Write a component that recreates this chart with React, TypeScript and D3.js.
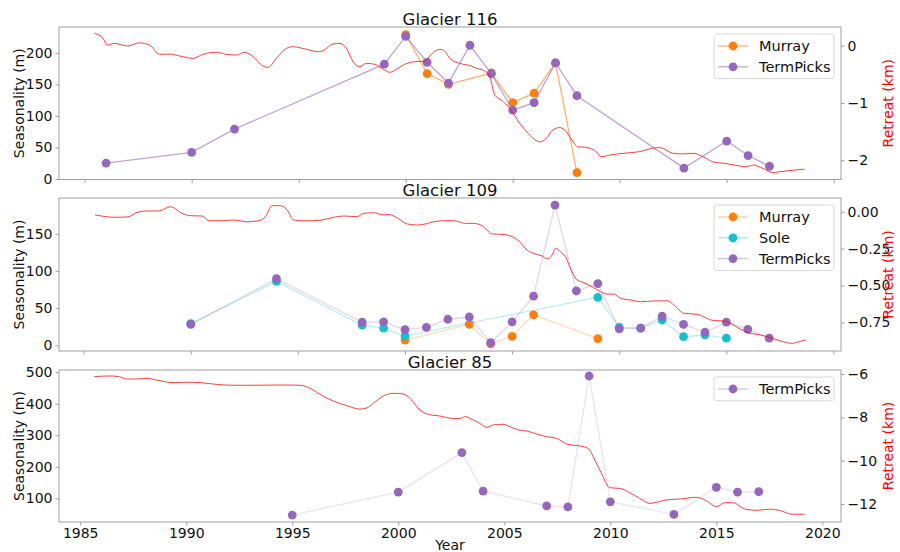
import React, { useEffect, useRef } from 'react';
import * as d3 from 'd3';

// ---- Glacier 116 ----
const murray116Years = [2000, 2001, 2002, 2004, 2005, 2006, 2007, 2008];
const murray116Vals = [229, 167, 150, 168, 121, 136, 184, 10];
const term116Years = [1986, 1990, 1992, 1999, 2000, 2001, 2002, 2003, 2004, 2005, 2006, 2007, 2008, 2013, 2015, 2016, 2017];
const term116Vals = [25, 42, 79, 182, 226, 185, 152, 212, 167, 109, 121, 184, 132, 17, 60, 37, 20];
const retreat116Years = [
  1985.45, 1985.86, 1986.04, 1986.4, 1987.0, 1987.57, 1988.04, 1988.5, 1988.97, 1989.44, 1990.06,
  1990.53, 1991.15, 1991.62, 1992.09, 1992.48, 1992.87, 1993.33, 1993.57, 1993.96, 1994.43, 1994.73,
  1995.36, 1995.9, 1996.2, 1996.6, 1996.9, 1997.23, 1997.54, 1997.85, 1998.16, 1998.55, 1998.94,
  1999.25, 1999.64, 1999.95, 2000.42, 2000.9, 2001.2, 2001.6, 2001.82, 2002.06, 2002.52, 2003.07,
  2003.3, 2003.6, 2003.93, 2004.16, 2004.47, 2004.86, 2005.33, 2005.72, 2006.03, 2006.26, 2006.57,
  2006.88, 2007.2, 2007.5, 2007.82, 2008.06, 2008.28, 2008.6, 2008.9, 2009.14, 2009.53, 2010.15,
  2010.93, 2011.55, 2011.87, 2012.5, 2012.96, 2013.43, 2013.9, 2014.36, 2014.99, 2015.6, 2015.92,
  2016.23, 2016.7, 2017.16, 2017.48, 2018.1, 2018.64,
];
const retreat116Vals = [
  0.216, 0.13, 0.01, 0.04, -0.005, 0.05, 0.01, -0.15, -0.145, -0.18, -0.22,
  -0.15, -0.115, -0.15, -0.163, -0.115, -0.19, -0.355, -0.378, -0.22, -0.045, -0.017,
  -0.063, -0.105, -0.075, 0.03, 0.04, -0.045, -0.28, -0.367, -0.308, -0.325, -0.407,
  -0.465, -0.395, -0.325, -0.28, -0.267, -0.145, -0.063, -0.093, -0.22, -0.308, -0.355,
  -0.395, -0.425, -0.54, -0.862, -0.95, -1.095, -1.357, -1.53, -1.64, -1.68, -1.62,
  -1.47, -1.43, -1.5, -1.68, -1.77, -1.77, -1.79, -1.85, -1.94, -1.91, -1.88,
  -1.85, -1.79, -1.78, -1.88, -1.89, -1.88, -1.94, -2.03, -2.06, -2.1, -2.115,
  -2.085, -2.145, -2.215, -2.2, -2.175, -2.155,
];

// ---- Glacier 109 ----
const murray109Years = [2000, 2003, 2004, 2005, 2006, 2009];
const murray109Vals = [7, 28, 2, 12, 41, 9];
const sole109Years = [1990, 1994, 1998, 1999, 2000, 2009, 2010, 2011, 2012, 2013, 2014, 2015];
const sole109Vals = [29, 86, 27, 23, 12.5, 64.5, 24, 23, 34, 11.5, 14, 9.5];
const term109Years = [1990, 1994, 1998, 1999, 2000, 2001, 2002, 2003, 2004, 2005, 2006, 2007, 2008, 2009, 2010, 2011, 2012, 2013, 2014, 2015, 2016, 2017];
const term109Vals = [28, 89.5, 31, 31.5, 21, 24, 35, 38, 3.5, 31.5, 66, 188.5, 73, 83, 22, 23, 39, 28, 17.5, 31, 21.5, 9.5];
const retreat109Years = [
  1985.53, 1986.09, 1986.56, 1987.1, 1987.49, 1987.96, 1988.5, 1989.05, 1989.59, 1989.98, 1990.53,
  1990.84, 1991.38, 1992.0, 1992.63, 1993.1, 1993.48, 1993.8, 1994.18, 1994.5, 1994.8, 1995.12,
  1995.74, 1996.2, 1996.67, 1997.14, 1997.76, 1998.07, 1998.54, 1999.0, 1999.24, 1999.63, 2000.1,
  2000.57, 2000.95, 2001.34, 2001.81, 2002.27, 2002.82, 2003.2, 2003.6, 2004.07, 2004.53, 2005.0,
  2005.31, 2005.7, 2006.09, 2006.4, 2006.63, 2006.87, 2007.02, 2007.25, 2007.49, 2007.72, 2008.03,
  2008.34, 2008.73, 2009.12, 2009.43, 2009.74, 2010.06, 2010.52, 2010.99, 2011.61, 2012.24, 2012.55,
  2013.01, 2013.64, 2014.02, 2014.41, 2014.88, 2015.19, 2015.66, 2016.13, 2016.59, 2017.06, 2017.53,
  2018.07, 2018.38, 2018.72,
];
const retreat109Vals = [
  -0.022, -0.034, -0.038, -0.034, -0.004, 0.005, 0.005, 0.034, -0.011, -0.027, -0.029,
  -0.061, -0.061, -0.056, -0.068, -0.063, -0.034, 0.041, 0.041, 0.012, -0.056, -0.061,
  -0.061, -0.054, -0.038, -0.029, -0.034, -0.011, -0.007, -0.022, -0.018, -0.041, -0.083,
  -0.09, -0.083, -0.068, -0.061, -0.061, -0.079, -0.079, -0.095, -0.151, -0.153, -0.169,
  -0.198, -0.26, -0.287, -0.3, -0.32, -0.293, -0.248, -0.271, -0.305, -0.384, -0.463,
  -0.481, -0.508, -0.542, -0.558, -0.558, -0.587, -0.598, -0.61, -0.605, -0.603, -0.632,
  -0.688, -0.695, -0.718, -0.738, -0.74, -0.756, -0.797, -0.824, -0.835, -0.854, -0.876,
  -0.892, -0.881, -0.869,
];

// ---- Glacier 85 ----
const term85Years = [1995, 2000, 2003, 2004, 2007, 2008, 2009, 2010, 2013, 2015, 2016, 2017];
const term85Vals = [47, 120, 245, 123, 76, 73, 488, 89, 49, 135, 120, 121];
const retreat85Years = [
  1985.67, 1986.41, 1986.8, 1987.2, 1987.67, 1988.14, 1988.61, 1989.39, 1990.03, 1990.65, 1991.44,
  1992.22, 1993.17, 1994.1, 1994.9, 1995.37, 1995.84, 1996.31, 1996.94, 1997.57, 1998.2, 1998.51,
  1998.82, 1999.29, 1999.76, 2000.24, 2000.63, 2001.02, 2001.41, 2001.97, 2002.6, 2002.91, 2003.14,
  2003.53, 2003.85, 2004.17, 2004.48, 2004.95, 2005.26, 2005.66, 2006.05, 2006.52, 2006.99, 2007.46,
  2008.01, 2008.56, 2008.95, 2009.27, 2009.58, 2009.98, 2010.45, 2010.92, 2011.39, 2011.86, 2012.65,
  2013.27, 2014.06, 2014.53, 2015.0, 2015.4, 2015.79, 2016.34, 2016.89, 2017.52, 2018.07, 2018.54,
  2019.17,
];
const retreat85Vals = [
  -6.12, -6.09, -6.12, -6.23, -6.23, -6.2, -6.28, -6.4, -6.38, -6.4, -6.48,
  -6.52, -6.52, -6.51, -6.51, -6.52, -6.66, -6.94, -7.25, -7.46, -7.62, -7.57,
  -7.35, -7.02, -6.89, -6.92, -7.2, -7.66, -7.86, -7.94, -8.05, -8.05, -7.97,
  -8.12, -8.28, -8.46, -8.35, -8.32, -8.43, -8.58, -8.63, -8.77, -8.89, -8.97,
  -9.25, -9.32, -9.43, -9.97, -10.58, -11.25, -11.28, -11.48, -11.74, -11.97, -11.81,
  -11.77, -11.69, -11.85, -12.12, -11.94, -11.94, -12.23, -12.29, -12.24, -12.32, -12.47,
  -12.47,
];

const xTicks = [1985, 1990, 1995, 2000, 2005, 2010, 2015, 2020];

const ORANGE = '#ff7f0e';
const CYAN = '#17becf';
const PURPLE = '#9467bd';

const panels = [
  {
    title: 'Glacier 116',
    top: 27, bottom: 179.5,
    xDomain: [1983.8, 2020.34], yLeft: [-1, 241], yRight: [-2.337, 0.327],
    leftTicks: [0, 50, 100, 150, 200], rightTicks: [-2, -1, 0], rightFmt: 'd',
    lineAlpha: 0.6, xLabels: false,
    series: [
      { name: 'Murray', color: ORANGE, years: murray116Years, vals: murray116Vals },
      { name: 'TermPicks', color: PURPLE, years: term116Years, vals: term116Vals },
    ],
    retreat: { years: retreat116Years, vals: retreat116Vals },
  },
  {
    title: 'Glacier 109',
    top: 198, bottom: 351,
    xDomain: [1983.85, 2020.35], yLeft: [-7.7, 198], yRight: [-0.944, 0.093],
    leftTicks: [0, 50, 100, 150], rightTicks: [-0.75, -0.5, -0.25, 0], rightFmt: '.2f',
    lineAlpha: 0.28, xLabels: false,
    series: [
      { name: 'Murray', color: ORANGE, years: murray109Years, vals: murray109Vals },
      { name: 'Sole', color: CYAN, years: sole109Years, vals: sole109Vals },
      { name: 'TermPicks', color: PURPLE, years: term109Years, vals: term109Vals },
    ],
    retreat: { years: retreat109Years, vals: retreat109Vals },
  },
  {
    title: 'Glacier 85',
    top: 370, bottom: 522,
    xDomain: [1984.0, 2020.88], yLeft: [25, 507], yRight: [-12.83, -5.815],
    leftTicks: [100, 200, 300, 400, 500], rightTicks: [-12, -10, -8, -6], rightFmt: 'd',
    lineAlpha: 0.2, xLabels: true,
    series: [
      { name: 'TermPicks', color: PURPLE, years: term85Years, vals: term85Vals },
    ],
    retreat: { years: retreat85Years, vals: retreat85Vals },
  },
];

const LEFT = 59;
const RIGHT = 841;
const FONT = 'DejaVu Sans, sans-serif';

export default function App() {
  const svgRef = useRef<SVGSVGElement>(null);

  useEffect(() => {
    const svg = d3.select(svgRef.current);
    svg.selectAll('*').remove();

    panels.forEach((p) => {
      const x = d3.scaleLinear().domain(p.xDomain).range([LEFT, RIGHT]);
      const yL = d3.scaleLinear().domain(p.yLeft).range([p.bottom, p.top]);
      const yR = d3.scaleLinear().domain(p.yRight).range([p.bottom, p.top]);
      const g = svg.append('g');

      // seasonality series: line then markers, series by series
      p.series.forEach((s) => {
        const pts = s.years.map((yr, i) => [yr, s.vals[i]] as [number, number]);
        const line = d3.line<[number, number]>().x(d => x(d[0])).y(d => yL(d[1]));
        g.append('path')
          .attr('d', line(pts))
          .attr('fill', 'none')
          .attr('stroke', s.color)
          .attr('stroke-opacity', p.lineAlpha)
          .attr('stroke-width', 1.3);
        g.append('g').selectAll('circle')
          .data(pts)
          .join('circle')
          .attr('cx', d => x(d[0]))
          .attr('cy', d => yL(d[1]))
          .attr('r', 4.4)
          .attr('fill', s.color);
      });

      // retreat on twin axis (drawn on top)
      const rpts = p.retreat.years.map((yr, i) => [yr, p.retreat.vals[i]] as [number, number]);
      const rline = d3.line<[number, number]>()
        .x(d => x(d[0])).y(d => yR(d[1]))
        .curve(d3.curveMonotoneX);
      g.append('path')
        .attr('d', rline(rpts))
        .attr('fill', 'none')
        .attr('stroke', 'red')
        .attr('stroke-opacity', 0.75)
        .attr('stroke-width', 1);

      // frame
      g.append('rect')
        .attr('x', LEFT).attr('y', p.top)
        .attr('width', RIGHT - LEFT).attr('height', p.bottom - p.top)
        .attr('fill', 'none').attr('stroke', '#a0a0a0').attr('stroke-width', 1);

      // axes
      const styleAxis = (sel: any) => {
        sel.select('.domain').remove();
        sel.selectAll('.tick line').attr('stroke', '#a0a0a0');
        sel.selectAll('.tick text')
          .attr('fill', '#111')
          .style('font-family', FONT)
          .style('font-size', '14px');
      };

      g.append('g')
        .attr('transform', `translate(${LEFT},0)`)
        .call(d3.axisLeft(yL).tickValues(p.leftTicks).tickSize(3.5).tickPadding(3).tickFormat(d3.format('d')) as any)
        .call(styleAxis);

      g.append('g')
        .attr('transform', `translate(${RIGHT},0)`)
        .call(d3.axisRight(yR).tickValues(p.rightTicks).tickSize(3.5).tickPadding(3).tickFormat(d3.format(p.rightFmt)) as any)
        .call(styleAxis);

      g.append('g')
        .attr('transform', `translate(0,${p.bottom})`)
        .call(d3.axisBottom(x).tickValues(xTicks).tickSize(3.5).tickPadding(3)
          .tickFormat((d: any) => (p.xLabels ? String(d) : '')) as any)
        .call(styleAxis);

      // title
      g.append('text')
        .attr('x', (LEFT + RIGHT) / 2)
        .attr('y', p.top - 2)
        .attr('text-anchor', 'middle')
        .style('font-family', FONT)
        .style('font-size', '16.5px')
        .attr('fill', '#111')
        .text(p.title);

      // axis labels
      const cy = (p.top + p.bottom) / 2;
      g.append('text')
        .attr('transform', `translate(24,${cy}) rotate(-90)`)
        .attr('text-anchor', 'middle')
        .style('font-family', FONT)
        .style('font-size', '14px')
        .attr('fill', '#111')
        .text('Seasonality (m)');
      g.append('text')
        .attr('transform', `translate(893,${cy}) rotate(-90)`)
        .attr('text-anchor', 'middle')
        .style('font-family', FONT)
        .style('font-size', '14px')
        .attr('fill', 'red')
        .text('Retreat (km)');

      // legend
      const rowH = 20.8;
      const lg = g.append('g').attr('transform', `translate(714,${p.top + 7})`);
      lg.append('rect')
        .attr('width', 120)
        .attr('height', p.series.length * rowH + 3)
        .attr('rx', 3)
        .attr('fill', 'white')
        .attr('fill-opacity', 0.8)
        .attr('stroke', '#d8d8d8');
      p.series.forEach((s, i) => {
        const ry = 12 + i * rowH;
        lg.append('line')
          .attr('x1', 4).attr('x2', 34).attr('y1', ry).attr('y2', ry)
          .attr('stroke', s.color).attr('stroke-opacity', Math.max(p.lineAlpha, 0.4)).attr('stroke-width', 1.3);
        lg.append('circle').attr('cx', 19).attr('cy', ry).attr('r', 4.4).attr('fill', s.color);
        lg.append('text')
          .attr('x', 45).attr('y', ry)
          .attr('dy', '0.35em')
          .style('font-family', FONT)
          .style('font-size', '14.5px')
          .attr('fill', '#111')
          .text(s.name);
      });
    });

    svg.append('text')
      .attr('x', (LEFT + RIGHT) / 2)
      .attr('y', 550)
      .attr('text-anchor', 'middle')
      .style('font-family', FONT)
      .style('font-size', '14px')
      .attr('fill', '#111')
      .text('Year');
  }, []);

  return (
    <svg
      ref={svgRef}
      width={900}
      height={552}
      style={{ position: 'absolute', left: 0, top: 0, background: 'white' }}
    />
  );
}
